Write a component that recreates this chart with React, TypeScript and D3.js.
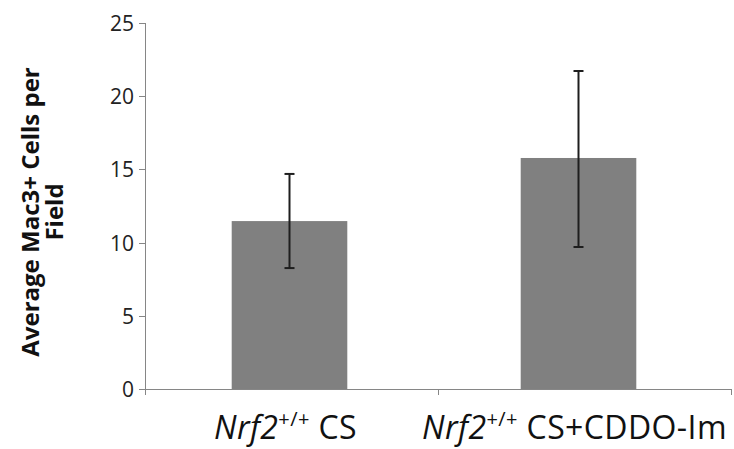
import * as d3 from 'd3';

const groups = ['g1', 'g2'];
const groupSuffix = ['CS', 'CS+CDDO-Im'];
const means = [11.47, 15.78];
const errHigh = [14.69, 21.72];
const errLow = [8.26, 9.7];
const yTicks = [0, 5, 10, 15, 20, 25];

const width = 734;
const height = 449;
const margin = { top: 23, right: 3, bottom: 60, left: 145 };

export default function App() {
  const chartW = width - margin.left - margin.right;
  const chartH = height - margin.top - margin.bottom;

  const x = d3.scaleBand<string>().domain(groups).range([0, 578]).paddingInner(0.6).paddingOuter(0.3);
  const y = d3.scaleLinear().domain([0, 25]).range([chartH, 0]);

  const font = "'Open Sans', sans-serif";
  const axisColor = '#868686';

  return (
    <svg
      width={width}
      height={height}
      style={{ position: 'absolute', left: 0, top: 0, background: '#fff' }}
    >
      <g transform={`translate(${margin.left},${margin.top})`}>
        {/* y axis */}
        <line x1={0.5} x2={0.5} y1={0} y2={chartH} stroke={axisColor} />
        {yTicks.map((t) => (
          <g key={t} transform={`translate(0,${Math.round(y(t)) + 0.5})`}>
            <line x1={-6} x2={0} stroke={axisColor} />
            <text x={-11} dy="0.36em" textAnchor="end" fontFamily={font} fontSize={21} fill="#222">
              {t}
            </text>
          </g>
        ))}

        {/* bars */}
        {groups.map((g, i) => (
          <rect
            key={g}
            x={x(g)}
            y={y(means[i])}
            width={x.bandwidth()}
            height={chartH - y(means[i])}
            fill="#808080"
          />
        ))}

        {/* error bars */}
        {groups.map((g, i) => {
          const cx = (x(g) ?? 0) + x.bandwidth() / 2;
          return (
            <g key={g} stroke="#1e1e1e" strokeWidth={2}>
              <line x1={cx} x2={cx} y1={y(errHigh[i])} y2={y(errLow[i])} />
              <line x1={cx - 5} x2={cx + 5} y1={y(errHigh[i])} y2={y(errHigh[i])} />
              <line x1={cx - 5} x2={cx + 5} y1={y(errLow[i])} y2={y(errLow[i])} />
            </g>
          );
        })}

        {/* x axis */}
        <line x1={0} x2={chartW} y1={chartH + 0.5} y2={chartH + 0.5} stroke={axisColor} />
        {[0, chartW / 2, chartW].map((px, i) => (
          <line key={i} x1={px + 0.5} x2={px + 0.5} y1={chartH} y2={chartH + 6} stroke={axisColor} />
        ))}
        {groups.map((g, i) => (
          <text
            key={g}
            x={(x(g) ?? 0) + x.bandwidth() / 2 - 4}
            y={chartH + 50}
            textAnchor="middle"
            fontFamily={font}
            fontSize={32}
            letterSpacing={0.4}
            fill="#111"
          >
            <tspan fontStyle="italic">Nrf2</tspan>
            <tspan fontSize={20} dy={-13}>+/+</tspan>
            <tspan dy={13}> {groupSuffix[i]}</tspan>
          </text>
        ))}
      </g>

      {/* y label */}
      <text
        transform={`translate(0,${margin.top + 189}) rotate(-90)`}
        textAnchor="middle"
        fontFamily={font}
        fontWeight="bold"
        fontSize={24}
        fill="#111"
      >
        <tspan x={0} y={39}>Average Mac3+ Cells per</tspan>
        <tspan x={0} y={63}>Field</tspan>
      </text>
    </svg>
  );
}
